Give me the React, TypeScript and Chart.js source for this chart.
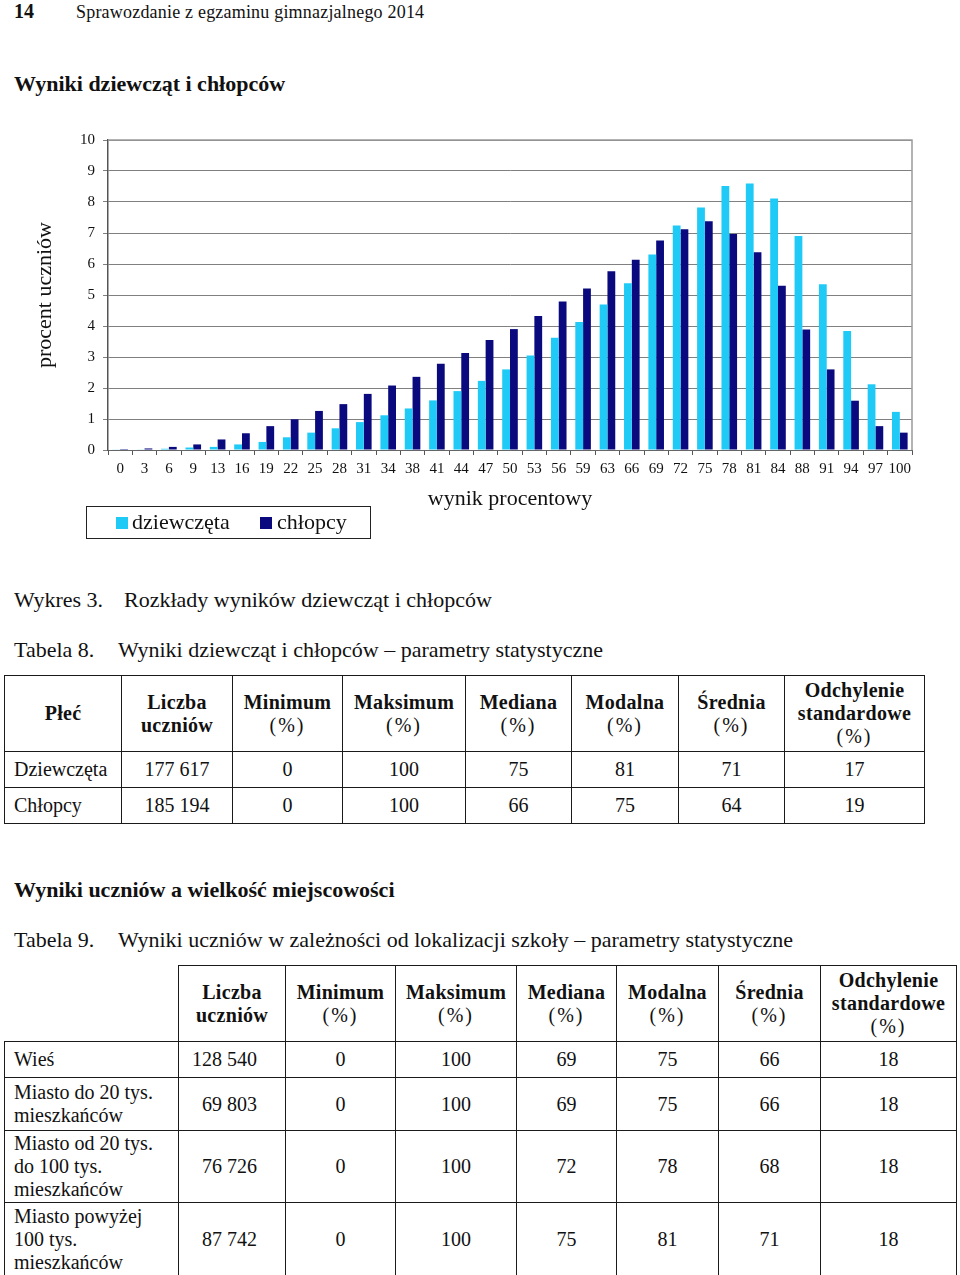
import React, { useEffect, useRef } from "react";
import { Chart, registerables } from "chart.js";

Chart.register(...registerables);

const FONT = "'Liberation Serif', 'Times New Roman', serif";

const categories = ["0","3","6","9","13","16","19","22","25","28","31","34","38","41","44","47","50","53","56","59","63","66","69","72","75","78","81","84","88","91","94","97","100"];
const girls = [0.02,0.02,0.04,0.08,0.1,0.18,0.26,0.41,0.56,0.7,0.9,1.12,1.34,1.6,1.9,2.23,2.6,3.05,3.62,4.13,4.69,5.38,6.31,7.24,7.82,8.52,8.6,8.11,6.9,5.35,3.84,2.12,1.23];
const boys = [0.03,0.05,0.1,0.18,0.34,0.54,0.77,0.99,1.26,1.48,1.81,2.08,2.36,2.78,3.13,3.55,3.9,4.32,4.79,5.21,5.77,6.14,6.76,7.12,7.38,6.97,6.38,5.3,3.89,2.6,1.59,0.77,0.56];
const seriesNames = ["dziewczęta", "chłopcy"];
const seriesColors = ["#1FCBF6", "#0A0A7E"];

const table8Head = [["Płeć"], ["Liczba", "uczniów"], ["Minimum", "(%)"], ["Maksimum", "(%)"], ["Mediana", "(%)"], ["Modalna", "(%)"], ["Średnia", "(%)"], ["Odchylenie", "standardowe", "(%)"]];
const table8Rows = [
  ["Dziewczęta", "177 617", "0", "100", "75", "81", "71", "17"],
  ["Chłopcy", "185 194", "0", "100", "66", "75", "64", "19"],
];
const table9Head = [[""], ["Liczba", "uczniów"], ["Minimum", "(%)"], ["Maksimum", "(%)"], ["Mediana", "(%)"], ["Modalna", "(%)"], ["Średnia", "(%)"], ["Odchylenie", "standardowe", "(%)"]];
const table9Labels = [["Wieś"], ["Miasto do 20 tys.", "mieszkańców"], ["Miasto od 20 tys.", "do 100 tys.", "mieszkańców"], ["Miasto powyżej", "100 tys.", "mieszkańców"]];
const table9Values = [
  ["128 540", "0", "100", "69", "75", "66", "18"],
  ["69 803", "0", "100", "69", "75", "66", "18"],
  ["76 726", "0", "100", "72", "78", "68", "18"],
  ["87 742", "0", "100", "75", "81", "71", "18"],
];

const borderPlugin = {
  id: "plotBorder",
  afterDraw(chart: any) {
    const { ctx, chartArea } = chart;
    ctx.save();
    ctx.strokeStyle = "#9a9a9a";
    ctx.lineWidth = 1.5;
    ctx.beginPath();
    ctx.moveTo(chartArea.left, chartArea.top);
    ctx.lineTo(chartArea.right, chartArea.top);
    ctx.lineTo(chartArea.right, chartArea.bottom);
    ctx.stroke();
    ctx.restore();
  },
};

function BarChart() {
  const ref = useRef<HTMLCanvasElement | null>(null);
  useEffect(() => {
    if (!ref.current) return;
    const chart = new Chart(ref.current, {
      type: "bar",
      data: {
        labels: categories,
        datasets: [
          { label: seriesNames[0], data: girls, backgroundColor: seriesColors[0], borderWidth: 0 },
          { label: seriesNames[1], data: boys, backgroundColor: seriesColors[1], borderWidth: 0 },
        ],
      },
      options: {
        animation: false,
        responsive: false,
        devicePixelRatio: 1,
        layout: { padding: { top: 20, right: 48, left: 0, bottom: 0 } },
        plugins: { legend: { display: false }, tooltip: { enabled: false } },
        datasets: { bar: { categoryPercentage: 0.64, barPercentage: 1.0 } },
        scales: {
          x: {
            afterFit(scale: any) { scale.height = 70; },
            grid: { display: true, drawOnChartArea: false, drawTicks: true, tickLength: 5, offset: true, color: "#555", lineWidth: 1 },
            border: { display: true, color: "#666", width: 1 },
            ticks: { autoSkip: false, maxRotation: 0, minRotation: 0, padding: 5, color: "#111", font: { family: FONT, size: 15 } },
            title: { display: true, text: "wynik procentowy", color: "#111", font: { family: FONT, size: 22 }, padding: { top: 0, bottom: 8 } },
          },
          y: {
            min: 0,
            max: 10,
            afterFit(scale: any) { scale.width = 108; },
            grid: { color: "#808080", lineWidth: 1, tickLength: 5, drawTicks: true },
            border: { display: true, color: "#555", width: 1.5 },
            ticks: { stepSize: 1, padding: 8, color: "#111", font: { family: FONT, size: 15 } },
            title: { display: true, text: "procent uczniów", color: "#111", font: { family: FONT, size: 22 }, padding: { top: 32, bottom: 0 } },
          },
        },
      },
      plugins: [borderPlugin],
    });
    return () => chart.destroy();
  }, []);
  return <canvas ref={ref} width={960} height={400} style={{ position: "absolute", left: 0, top: 120, width: 960, height: 400 }} />;
}

function Text({ x, y, size, bold, children, spacing }: any) {
  const lh = Math.round(size * 1.2);
  return (
    <div style={{ position: "absolute", left: x, top: y - lh / 2, fontSize: size, lineHeight: lh + "px", fontWeight: bold ? "bold" : "normal", whiteSpace: "nowrap", letterSpacing: spacing || 0, color: "#111" }}>
      {children}
    </div>
  );
}

const cellBorder = "1px solid #1a1a1a";

function HeadCell({ lines, style }: any) {
  return (
    <th style={{ border: cellBorder, padding: 0, textAlign: "center", verticalAlign: "middle", lineHeight: "23px", fontSize: 20, ...style }}>
      {lines.map((l: string, i: number) => (
        <div key={i} style={{ fontWeight: l === "(%)" ? "normal" : "bold", letterSpacing: l === "(%)" ? 2 : 0.3 }}>{l}</div>
      ))}
    </th>
  );
}

function Table8() {
  const widths = [117, 111, 110, 123, 106, 107, 106, 140];
  return (
    <table style={{ position: "absolute", left: 4, top: 675, width: 920, borderCollapse: "collapse", tableLayout: "fixed", fontFamily: FONT, color: "#111" }}>
      <colgroup>{widths.map((w, i) => <col key={i} style={{ width: w }} />)}</colgroup>
      <tbody>
        <tr style={{ height: 76 }}>
          {table8Head.map((h, i) => <HeadCell key={i} lines={h} />)}
        </tr>
        {table8Rows.map((r, ri) => (
          <tr key={ri} style={{ height: 36 }}>
            {r.map((c, ci) => (
              <td key={ci} style={{ border: cellBorder, padding: ci === 0 ? "0 0 0 9px" : 0, textAlign: ci === 0 ? "left" : "center", fontSize: 20, verticalAlign: "middle", whiteSpace: "nowrap" }}>{c}</td>
            ))}
          </tr>
        ))}
      </tbody>
    </table>
  );
}

function Table9() {
  const widths = [174, 107, 110, 121, 100, 102, 102, 136];
  const heights = [36, 53, 72, 73];
  return (
    <table style={{ position: "absolute", left: 4, top: 965, width: 952, borderCollapse: "collapse", tableLayout: "fixed", fontFamily: FONT, color: "#111" }}>
      <colgroup>{widths.map((w, i) => <col key={i} style={{ width: w }} />)}</colgroup>
      <tbody>
        <tr style={{ height: 76 }}>
          {table9Head.map((h, i) => (
            <HeadCell key={i} lines={h} style={i === 0 ? { borderTop: "none", borderLeft: "none" } : undefined} />
          ))}
        </tr>
        {table9Values.map((r, ri) => (
          <tr key={ri} style={{ height: heights[ri] }}>
            <td style={{ border: cellBorder, padding: "0 0 0 9px", textAlign: "left", fontSize: 20, lineHeight: "23px", verticalAlign: "middle", whiteSpace: "nowrap" }}>
              {table9Labels[ri].map((l, li) => <div key={li}>{l}</div>)}
            </td>
            {r.map((c, ci) => (
              <td key={ci} style={{ border: cellBorder, padding: ci === 0 ? "0 28px 0 0" : 0, textAlign: ci === 0 ? "right" : "center", fontSize: 20, verticalAlign: "middle", whiteSpace: "nowrap" }}>{c}</td>
            ))}
          </tr>
        ))}
      </tbody>
    </table>
  );
}

function Legend() {
  const sq = (color: string, left: number) => (
    <div style={{ position: "absolute", left, top: 10, width: 12, height: 12, background: color }} />
  );
  return (
    <div style={{ position: "absolute", left: 86, top: 506, width: 283, height: 31, border: "1.5px solid #222", fontFamily: FONT, fontSize: 22, color: "#111" }}>
      {sq(seriesColors[0], 29)}
      <div style={{ position: "absolute", left: 45, top: 2, lineHeight: "26px", whiteSpace: "nowrap" }}>{seriesNames[0]}</div>
      {sq(seriesColors[1], 173)}
      <div style={{ position: "absolute", left: 190, top: 2, lineHeight: "26px", whiteSpace: "nowrap" }}>{seriesNames[1]}</div>
    </div>
  );
}

export default function App() {
  return (
    <div style={{ position: "absolute", left: 0, top: 0, width: 960, height: 1275, background: "#fff", fontFamily: FONT, color: "#111", overflow: "hidden" }}>
      <Text x={14} y={11} size={20} bold>14</Text>
      <Text x={76} y={12} size={18} spacing={0.2}>Sprawozdanie z egzaminu gimnazjalnego 2014</Text>
      <Text x={14} y={84} size={22} bold>Wyniki dziewcząt i chłopców</Text>
      <BarChart />
      <Legend />
      <Text x={14} y={600} size={22}>Wykres 3.</Text>
      <Text x={124} y={600} size={22}>Rozkłady wyników dziewcząt i chłopców</Text>
      <Text x={14} y={650} size={22}>Tabela 8.</Text>
      <Text x={118} y={650} size={22}>Wyniki dziewcząt i chłopców – parametry statystyczne</Text>
      <Table8 />
      <Text x={14} y={890} size={22} bold>Wyniki uczniów a wielkość miejscowości</Text>
      <Text x={14} y={940} size={22}>Tabela 9.</Text>
      <Text x={118} y={940} size={22}>Wyniki uczniów w zależności od lokalizacji szkoły – parametry statystyczne</Text>
      <Table9 />
    </div>
  );
}
